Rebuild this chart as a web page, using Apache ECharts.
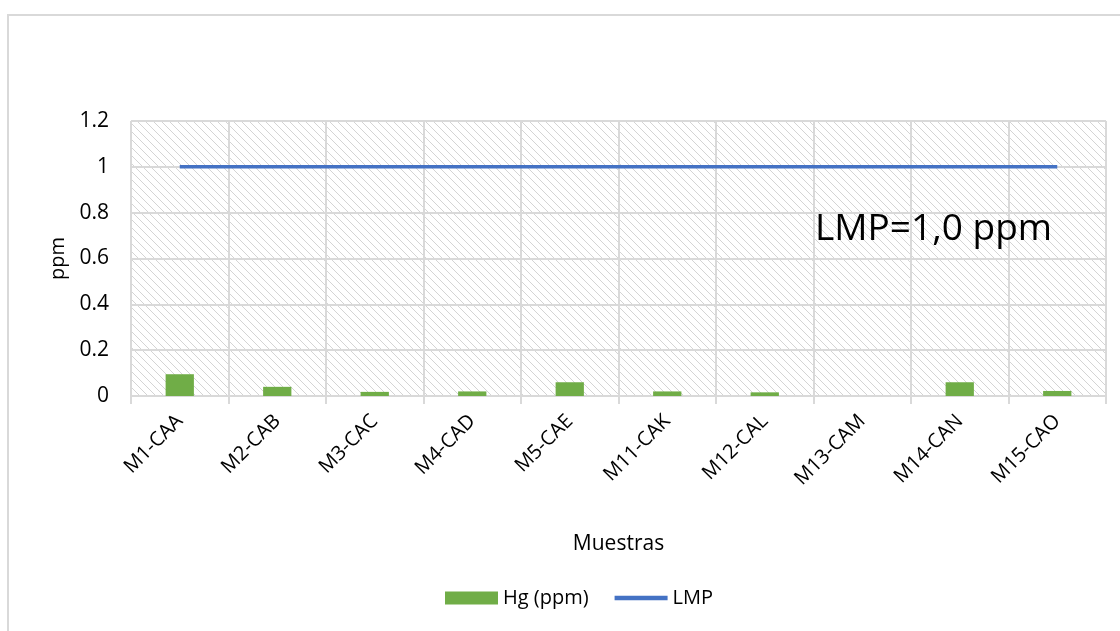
<!DOCTYPE html>
<html>
<head>
<meta charset="utf-8">
<script src="https://cdn.jsdelivr.net/npm/echarts@6/dist/echarts.min.js"></script>
<style>
  html, body { margin: 0; padding: 0; background: #fff; }
  #chart { width: 1120px; height: 631px; }
</style>
</head>
<body>
<div id="chart"></div>
<script>
// Sample codes along the x axis
const categories = ['M1-CAA', 'M2-CAB', 'M3-CAC', 'M4-CAD', 'M5-CAE', 'M11-CAK', 'M12-CAL', 'M13-CAM', 'M14-CAN', 'M15-CAO'];
// Mercury concentration per sample (ppm)
const hgValues = [0.095, 0.04, 0.018, 0.02, 0.06, 0.02, 0.016, 0, 0.06, 0.022];
// Maximum permissible limit (ppm)
const lmpValues = [1, 1, 1, 1, 1, 1, 1, 1, 1, 1];
const yTicks = [0, 0.2, 0.4, 0.6, 0.8, 1, 1.2];

// Diagonal hatch used as the plot-area fill
function hatchPattern() {
  const s = 8;
  const c = document.createElement('canvas');
  c.width = s; c.height = s;
  const g = c.getContext('2d');
  g.fillStyle = '#ffffff';
  g.fillRect(0, 0, s, s);
  g.strokeStyle = '#d4d4d4';
  g.lineWidth = 1;
  g.beginPath();
  g.moveTo(-1, -1); g.lineTo(s + 1, s + 1);
  g.moveTo(-1, s - 1); g.lineTo(1, s + 1);
  g.moveTo(s - 1, -1); g.lineTo(s + 1, 1);
  g.stroke();
  return c;
}

const font = '"Open Sans", Lato, sans-serif';
const chart = echarts.init(document.getElementById('chart'), null, { renderer: 'canvas' });

chart.setOption({
  backgroundColor: '#ffffff',
  animation: false,
  textStyle: { fontFamily: font },
  grid: {
    left: 131, right: 14, top: 121, bottom: 235,
    show: true,
    borderWidth: 0,
    backgroundColor: { image: hatchPattern(), repeat: 'repeat' }
  },
  legend: {
    bottom: 18,
    left: 440,
    itemWidth: 53,
    itemHeight: 13,
    itemGap: 26,
    textStyle: { fontSize: 20, color: '#000', fontFamily: font },
    data: [
      { name: 'Hg (ppm)', icon: 'rect' },
      { name: 'LMP', icon: 'path://M0,0 H60 V5 H0 Z' }
    ]
  },
  xAxis: {
    type: 'category',
    data: categories,
    boundaryGap: true,
    name: 'Muestras',
    nameLocation: 'middle',
    nameGap: 138,
    nameTextStyle: { fontSize: 21, color: '#000', fontFamily: font },
    axisLine: { show: true, lineStyle: { color: '#d9d9d9', width: 2 } },
    axisTick: { show: true, length: 8, lineStyle: { color: '#d9d9d9', width: 2 } },
    splitLine: { show: true, lineStyle: { color: '#d9d9d9', width: 2 } },
    axisLabel: {
      rotate: 45,
      interval: 0,
      margin: 22,
      fontSize: 20,
      color: '#000',
      fontFamily: font
    }
  },
  yAxis: {
    type: 'value',
    min: 0,
    max: 1.2,
    interval: 0.2,
    name: 'ppm',
    nameLocation: 'middle',
    nameGap: 63,
    nameRotate: 90,
    nameTextStyle: { fontSize: 20, color: '#000', fontFamily: font },
    axisLine: { show: false },
    axisTick: { show: false },
    splitLine: { show: true, lineStyle: { color: '#d9d9d9', width: 2 } },
    axisLabel: {
      margin: 22,
      fontSize: 21,
      color: '#000',
      fontFamily: font,
      formatter: v => String(yTicks.find(t => Math.abs(t - v) < 1e-9) ?? v)
    }
  },
  series: [
    {
      name: 'Hg (ppm)',
      type: 'bar',
      data: hgValues,
      barWidth: '29%',
      itemStyle: { color: '#70ad47' }
    },
    {
      name: 'LMP',
      type: 'line',
      data: lmpValues,
      symbol: 'none',
      lineStyle: { color: '#4472c4', width: 3.5 },
      itemStyle: { color: '#4472c4' }
    }
  ],
  graphic: [
    {
      type: 'rect',
      z: 100,
      shape: { x: 8, y: 15, width: 1130, height: 640 },
      style: { fill: 'none', stroke: '#d9d9d9', lineWidth: 2 },
      silent: true
    },
    {
      type: 'text',
      z: 100,
      left: 815,
      top: 211,
      style: { text: 'LMP=1,0 ppm', font: '37px ' + font, fill: '#000' },
      silent: true
    }
  ]
});
</script>
</body>
</html>
